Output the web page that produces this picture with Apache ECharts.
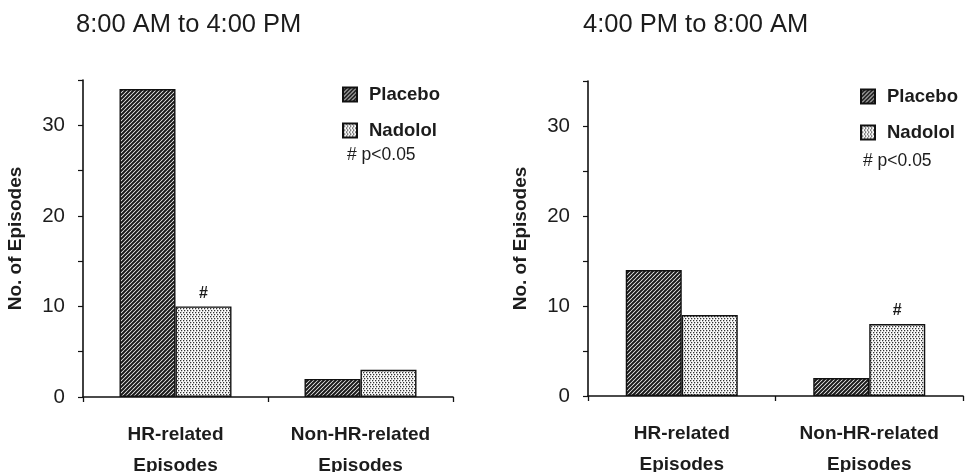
<!DOCTYPE html>
<html><head><meta charset="utf-8">
<script src="https://cdn.jsdelivr.net/npm/echarts@6/dist/echarts.min.js"></script>
<style>html,body{margin:0;padding:0;background:#fff}#c{width:965px;height:472px}</style>
</head><body><div id="c"></div>
<script>
const categories = ['HR-related\nEpisodes', 'Non-HR-related\nEpisodes'];
const seriesNames = ['Placebo', 'Nadolol'];
const panelTitles = ['8:00 AM to 4:00 PM', '4:00 PM to 8:00 AM'];
const dayPlacebo = [34, 2];
const dayNadolol = [10, 3];
const nightPlacebo = [14, 2];
const nightNadolol = [9, 8];
const dayNadololSignif = [true, false];
const nightNadololSignif = [false, true];
const significanceNote = '# p<0.05';
const yAxisName = 'No. of Episodes';

function hatchPattern() {
  const c = document.createElement('canvas'); c.width = 4; c.height = 4;
  const g = c.getContext('2d');
  g.fillStyle = '#fff'; g.fillRect(0, 0, 4, 4);
  g.strokeStyle = '#1a1a1a'; g.lineWidth = 2.0;
  [[-1, 1, 1, -1], [0, 4, 4, 0], [3, 5, 5, 3]].forEach(l => { g.beginPath(); g.moveTo(l[0], l[1]); g.lineTo(l[2], l[3]); g.stroke(); });
  return c;
}
function stipplePattern() {
  const c = document.createElement('canvas'); c.width = 6; c.height = 4;
  const g = c.getContext('2d');
  g.fillStyle = '#fff'; g.fillRect(0, 0, 6, 4);
  g.fillStyle = '#333';
  [[0, 0], [3, 0], [1, 2], [4, 2]].forEach(p => g.fillRect(p[0], p[1], 1.3, 1.3));
  return c;
}
const hatchFill = { image: hatchPattern(), repeat: 'repeat' };
const stippleFill = { image: stipplePattern(), repeat: 'repeat' };

const FONT = '"Liberation Sans", Arial, Helvetica, sans-serif';
const TXT = '#1c1c1c';

function withMarks(values, sig) {
  return values.map((v, i) => sig[i] ? { value: v, label: { show: true, position: 'top', formatter: '#', fontSize: 16, fontWeight: 'bold', color: TXT, fontFamily: FONT, distance: 5 } } : v);
}

const grids = [
  { left: 83, right: 512, top: 80, bottom: 75, outerBoundsMode: 'none', containLabel: false },
  { left: 588, right: 2, top: 81, bottom: 76, outerBoundsMode: 'none', containLabel: false }
];

function xAxis(i) {
  return {
    type: 'category', gridIndex: i, data: categories,
    axisLine: { lineStyle: { color: '#111', width: 1.6 } },
    axisTick: { show: true, length: 5, lineStyle: { color: '#111', width: 1.3 } },
    axisLabel: { color: TXT, fontFamily: FONT, fontSize: 19, fontWeight: 'bold', lineHeight: 31, margin: 22, interval: 0 }
  };
}
function yAxis(i) {
  return {
    type: 'value', gridIndex: i, min: 0, max: 35, interval: 5,
    name: yAxisName, nameLocation: 'middle', nameGap: 58, nameRotate: 90,
    nameTextStyle: { color: TXT, fontFamily: FONT, fontSize: 19, fontWeight: 'bold' },
    axisLine: { show: true, lineStyle: { color: '#111', width: 1.6 } },
    axisTick: { show: true, length: 5, lineStyle: { color: '#111', width: 1.2 } },
    axisLabel: { color: TXT, fontFamily: FONT, fontSize: 20.5, margin: 18, formatter: v => (v % 10 === 0 ? String(v) : '') },
    splitLine: { show: false }
  };
}
function bar(name, values, fill, idx) {
  return {
    type: 'bar', name, data: values, xAxisIndex: idx, yAxisIndex: idx,
    barWidth: 56, barGap: '0%',
    itemStyle: { color: fill, borderColor: '#111', borderWidth: 1.4 },
    emphasis: { disabled: true }, animation: false
  };
}
function legend(left, top) {
  return {
    left, top, orient: 'vertical', data: seriesNames, selectedMode: false, icon: 'rect',
    itemWidth: 14, itemHeight: 14, itemGap: 17,
    textStyle: { color: TXT, fontFamily: FONT, fontSize: 18.5, fontWeight: 'bold', padding: [0, 0, 0, 7] }
  };
}

const chart = echarts.init(document.getElementById('c'), null, { renderer: 'canvas' });
chart.setOption({
  animation: false,
  backgroundColor: '#fff',
  title: [
    { text: panelTitles[0], left: 71, top: 7, textStyle: { color: TXT, fontFamily: FONT, fontSize: 25.5, fontWeight: 'normal' } },
    { text: panelTitles[1], left: 578, top: 7, textStyle: { color: TXT, fontFamily: FONT, fontSize: 25.5, fontWeight: 'normal' } }
  ],
  legend: [legend(337, 80), legend(855, 82)],
  graphic: [
    { type: 'text', left: 347, top: 146, style: { text: significanceNote, fill: TXT, font: '17.5px ' + FONT } },
    { type: 'text', left: 863, top: 152, style: { text: significanceNote, fill: TXT, font: '17.5px ' + FONT } }
  ],
  grid: grids,
  xAxis: [xAxis(0), xAxis(1)],
  yAxis: [yAxis(0), yAxis(1)],
  series: [
    bar(seriesNames[0], dayPlacebo, hatchFill, 0),
    bar(seriesNames[1], withMarks(dayNadolol, dayNadololSignif), stippleFill, 0),
    bar(seriesNames[0], nightPlacebo, hatchFill, 1),
    bar(seriesNames[1], withMarks(nightNadolol, nightNadololSignif), stippleFill, 1)
  ]
});
</script>
</body></html>
